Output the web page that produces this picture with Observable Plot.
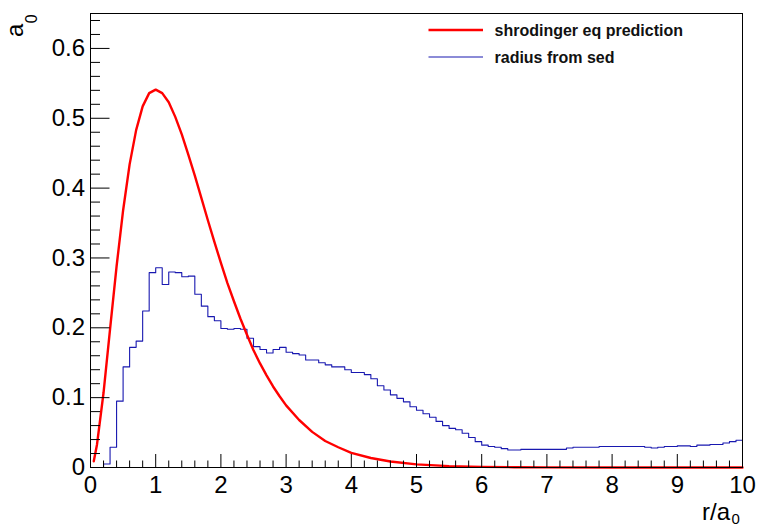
<!DOCTYPE html>
<html>
<head>
<meta charset="utf-8">
<script src="https://cdn.jsdelivr.net/npm/d3@7"></script>
<script src="https://cdn.jsdelivr.net/npm/@observablehq/plot@0.6"></script>
<style>
  html, body { margin: 0; padding: 0; background: white; }
  #chart { width: 757px; height: 527px; }
</style>
</head>
<body>
<div id="chart"></div>
<script>
// ---- data ----
// histogram "radius from sed": bins of width 0.1 from 0 to 10
const binWidth = 0.1;
const histValues = [
  0, 0, 0.005, 0.029, 0.095, 0.144, 0.172, 0.181, 0.224, 0.279,
  0.286, 0.262, 0.280, 0.279, 0.273, 0.274, 0.248, 0.231, 0.216, 0.210,
  0.199, 0.198, 0.199, 0.198, 0.185, 0.173, 0.169, 0.164, 0.169, 0.172,
  0.165, 0.163, 0.161, 0.154, 0.154, 0.150, 0.147, 0.144, 0.144, 0.140,
  0.136, 0.136, 0.133, 0.127, 0.117, 0.111, 0.104, 0.099, 0.094, 0.087,
  0.082, 0.077, 0.072, 0.066, 0.060, 0.056, 0.054, 0.049, 0.043, 0.037,
  0.032, 0.030, 0.029, 0.027, 0.025, 0.025, 0.026, 0.026, 0.026, 0.026,
  0.026, 0.026, 0.026, 0.028, 0.029, 0.029, 0.029, 0.029, 0.030, 0.030,
  0.030, 0.030, 0.030, 0.030, 0.030, 0.029, 0.028, 0.029, 0.030, 0.030,
  0.031, 0.031, 0.030, 0.032, 0.032, 0.033, 0.033, 0.035, 0.037, 0.039
];
// curve "shrodinger eq prediction"
const redR = [0.05, 0.1, 0.2, 0.3, 0.4, 0.5, 0.6, 0.7, 0.8, 0.9, 1.0, 1.1, 1.2, 1.3, 1.4, 1.5, 1.6, 1.7, 1.8, 1.9,
  2.0, 2.1, 2.2, 2.3, 2.4, 2.5, 2.6, 2.7, 2.8, 2.9, 3.0, 3.2, 3.4, 3.6, 3.8, 4.0, 4.3, 4.6, 5.0, 5.5, 6.0, 6.5, 7.0, 8.0, 9.0, 10.0];
const redP = [0.009, 0.033, 0.107, 0.198, 0.288, 0.368, 0.434, 0.483, 0.517, 0.536, 0.541, 0.536, 0.523, 0.502, 0.477, 0.448, 0.418, 0.386, 0.354, 0.323,
  0.293, 0.264, 0.238, 0.213, 0.190, 0.168, 0.149, 0.132, 0.116, 0.102, 0.089, 0.068, 0.051, 0.038, 0.029, 0.021, 0.0136, 0.0086, 0.0045, 0.0020, 0.0009, 0.0004, 0.00016, 0.00003, 0.000004, 0.0];
// axes
const xTicks = [0, 1, 2, 3, 4, 5, 6, 7, 8, 9, 10];
const xMinor = [0.2, 0.4, 0.6, 0.8, 1.2, 1.4, 1.6, 1.8, 2.2, 2.4, 2.6, 2.8, 3.2, 3.4, 3.6, 3.8, 4.2, 4.4, 4.6, 4.8,
  5.2, 5.4, 5.6, 5.8, 6.2, 6.4, 6.6, 6.8, 7.2, 7.4, 7.6, 7.8, 8.2, 8.4, 8.6, 8.8, 9.2, 9.4, 9.6, 9.8];
const yTicks = [0, 0.1, 0.2, 0.3, 0.4, 0.5, 0.6];
const yMinor = [0.02, 0.04, 0.06, 0.08, 0.12, 0.14, 0.16, 0.18, 0.22, 0.24, 0.26, 0.28, 0.32, 0.34, 0.36, 0.38,
  0.42, 0.44, 0.46, 0.48, 0.52, 0.54, 0.56, 0.58, 0.62, 0.64];
const legendLabels = ["shrodinger eq prediction", "radius from sed"];

// ---- build tables ----
const histPts = histValues.map((v, i) => ({x: i * binWidth, y: v}));
histPts.push({x: histValues.length * binWidth, y: histValues[histValues.length - 1]});
const redPts = redR.map((r, i) => ({r, p: redP[i]}));

const W = 757, H = 527;
const mL = 90, mR = 15, mT = 13, mB = 60;
const fw = W - mL - mR, fh = H - mT - mB;
const FONT = "'Liberation Sans', Arial, Helvetica, sans-serif";

const svg = Plot.plot({
  width: W, height: H,
  marginLeft: mL, marginRight: mR, marginTop: mT, marginBottom: mB,
  x: {domain: [0, 10]},
  y: {domain: [0, 0.65]},
  style: {fontFamily: FONT, background: "white", color: "black", overflow: "visible"},
  marks: [
    Plot.line(histPts, {x: "x", y: "y", curve: "step-after", stroke: "#1818b0", strokeWidth: 1.1}),
    Plot.line(redPts, {x: "r", y: "p", stroke: "#ff0000", strokeWidth: 2.4}),
    Plot.tickY(yMinor, {y: d => d, insetRight: fw - 10, stroke: "black", strokeWidth: 1}),
    Plot.tickY(yTicks, {y: d => d, insetRight: fw - 19.5, stroke: "black", strokeWidth: 1}),
    Plot.tickX(xMinor, {x: d => d, insetTop: fh - 6.5, stroke: "black", strokeWidth: 1}),
    Plot.tickX(xTicks, {x: d => d, insetTop: fh - 13, stroke: "black", strokeWidth: 1}),
    Plot.axisX({ticks: xTicks, tickSize: 0, tickPadding: 8, fontSize: 24, label: null, tickFormat: d => String(d)}),
    Plot.axisY({ticks: yTicks, tickSize: 0, tickPadding: 5.5, fontSize: 24, label: null, tickFormat: d => String(d)}),
    Plot.frame({stroke: "black", strokeWidth: 1})
  ]
});

const s = d3.select(svg);
function txt(sel, x, y, size, anchor, str, weight) {
  return sel.append("text").attr("x", x).attr("y", y).attr("font-size", size)
    .attr("text-anchor", anchor).attr("font-family", FONT).attr("fill", "black")
    .attr("font-weight", weight || "normal").text(str);
}
// x-axis title r/a0
txt(s, 730, 520, 24, "end", "r/a");
txt(s, 731.5, 523.5, 15, "start", "0");
// y-axis title a0 (rotated)
const gy = s.append("g").attr("transform", "translate(23,37) rotate(-90)");
txt(gy, 0, 0, 24, "start", "a");
txt(gy, 13.7, 13.5, 16, "start", "0");
// legend
const lg = s.append("g");
lg.append("line").attr("x1", 428.5).attr("x2", 483).attr("y1", 30).attr("y2", 30)
  .attr("stroke", "#ff0000").attr("stroke-width", 2.3);
lg.append("line").attr("x1", 428.5).attr("x2", 483).attr("y1", 57).attr("y2", 57)
  .attr("stroke", "#1818b0").attr("stroke-width", 1.1);
txt(lg, 494.5, 35.5, 16, "start", legendLabels[0], "bold").attr("fill", "#111");
txt(lg, 494.5, 62.5, 16, "start", legendLabels[1], "bold").attr("fill", "#111");

document.getElementById("chart").appendChild(svg);
</script>
</body>
</html>
